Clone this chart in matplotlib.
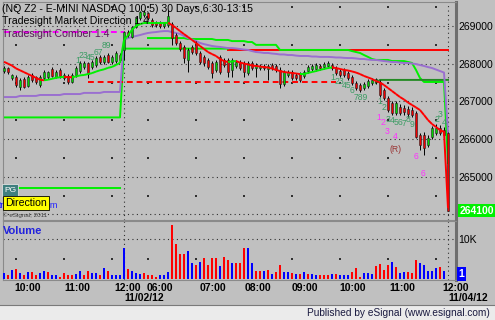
import numpy as np
import matplotlib.pyplot as plt
from matplotlib.collections import LineCollection
from matplotlib.transforms import blended_transform_factory
from matplotlib.patches import Rectangle
from matplotlib.lines import Line2D

plt.rcParams['font.family'] = ['Liberation Sans', 'DejaVu Sans']

# NQ Z2 5 min bars, 11/02/12 (last part) and 11/04/12
opens = [267800, 267875, 267625, 267650, 267375, 267600, 267400, 267700, 267650, 267425,
         267625, 267650, 267850, 267650, 267825, 267625, 267675, 267525, 267700, 267800,
         267900, 268025, 267900, 267975, 268175, 268050, 268225, 268050, 268075, 268225,
         268375, 268850, 268700, 268975, 269200, 269300, 269350, 269150, 269075, 269075,
         269000, 269025, 269050, 268750, 268550, 268450, 268100, 268450, 268550, 268275,
         268175, 268100, 268025, 267825, 268175, 268100, 268100, 267825, 267950, 268050,
         268025, 267750, 268025, 267875, 267875, 267950, 267850, 267975, 267950, 267825,
         267450, 267700, 267775, 267700, 267725, 267675, 267800, 267850, 267850, 267950,
         267900, 267950, 267975, 267875, 267800, 267825, 267750, 267650, 267500, 267425,
         267350, 267400, 267500, 267525, 267525, 267300, 267100, 266950, 266700, 266850,
         266825, 266800, 266775, 266700, 266100, 266100, 265850, 266050, 266150, 266300,
         266250, 266150]
highs = [267950, 267900, 267725, 267700, 267625, 267650, 267700, 267750, 267675, 267700,
         267825, 267800, 267900, 267825, 267875, 267750, 267725, 267750, 267950, 268075,
         268075, 268050, 268100, 268200, 268225, 268225, 268275, 268225, 268325, 268275,
         268875, 268900, 269000, 269250, 269400, 269425, 269375, 269200, 269125, 269125,
         269100, 269425, 269100, 268825, 268600, 268500, 268425, 268500, 268600, 268325,
         268225, 268150, 268075, 268100, 268225, 268150, 268150, 268150, 268100, 268100,
         268075, 268075, 268075, 268025, 268000, 268000, 268000, 268025, 268000, 267900,
         267825, 267825, 267825, 267750, 267775, 267825, 267975, 268000, 268025, 268000,
         268050, 268075, 268025, 267950, 267850, 267875, 267800, 267700, 267550, 267500,
         267525, 267600, 267625, 267625, 267575, 267350, 267150, 267000, 267000, 266925,
         266900, 266875, 266850, 266750, 266150, 266200, 266100, 266350, 266400, 266375,
         266325, 266200]
lows = [267750, 267725, 267575, 267375, 267300, 267350, 267375, 267525, 267450, 267375,
        267575, 267600, 267650, 267625, 267625, 267575, 267450, 267500, 267650, 267750,
        267850, 267625, 267850, 267900, 268000, 268000, 268025, 268000, 268025, 268050,
        268100, 268700, 268675, 268950, 269150, 269250, 269150, 268975, 268975, 268950,
        268950, 268975, 268500, 268500, 268325, 268025, 267775, 268250, 268225, 268000,
        267950, 267850, 267625, 267775, 267725, 267900, 267650, 267650, 267875, 267825,
        267650, 267700, 267825, 267650, 267825, 267825, 267575, 267825, 267775, 267350,
        267400, 267650, 267575, 267575, 267525, 267625, 267750, 267800, 267800, 267825,
        267850, 267875, 267825, 267700, 267650, 267650, 267575, 267425, 267300, 267250,
        267300, 267350, 267425, 267450, 267125, 267025, 266725, 266650, 266650, 266650,
        266650, 266575, 266575, 266025, 265700, 265575, 265800, 266000, 266100, 266100,
        266050, 264100]
closes = [267875, 267775, 267700, 267425, 267575, 267375, 267650, 267575, 267525, 267650,
          267775, 267775, 267675, 267775, 267675, 267700, 267525, 267700, 267875, 268025,
          268025, 267725, 268050, 268150, 268050, 268175, 268050, 268175, 268275, 268100,
          268850, 268750, 268975, 269200, 269375, 269375, 269200, 269025, 269025, 269000,
          269075, 269275, 268675, 268550, 268400, 268150, 268375, 268300, 268275, 268050,
          268025, 267900, 267750, 268050, 267775, 267975, 267775, 268100, 268050, 267875,
          267775, 268025, 267875, 267975, 267950, 267875, 267950, 267875, 267825, 267450,
          267775, 267775, 267625, 267625, 267575, 267775, 267900, 267950, 267975, 267875,
          268000, 268025, 267875, 267750, 267700, 267700, 267625, 267500, 267350, 267300,
          267450, 267550, 267575, 267600, 267175, 267100, 266775, 266700, 266950, 266700,
          266725, 266675, 266650, 266050, 265850, 265775, 266025, 266300, 266300, 266150,
          266100, 264100]

# volume in thousands of contracts, B = up (blue), R = down (red)
volume_k = [1.5, 0.9, 2.3, 2.5, 1.5, 0.9, 1.7, 1.7, 0.9, 1.5,
            2.0, 1.7, 1.0, 0.9, 0.6, 1.5, 1.0, 0.9, 1.2, 1.9,
            1.0, 2.0, 1.5, 1.5, 0.9, 2.7, 2.0, 0.9, 0.9, 1.0,
            7.7, 2.6, 1.9, 1.5, 1.3, 1.5, 0.9, 0.9, 0.6, 0.9,
            1.0, 1.7, 13.6, 8.9, 6.2, 6.4, 7.0, 4.0, 3.6, 4.4,
            5.3, 3.6, 5.3, 5.3, 3.4, 5.5, 4.8, 4.0, 4.0, 4.0,
            7.8, 7.8, 4.0, 2.0, 2.0, 2.0, 2.3, 1.2, 1.7, 3.6,
            1.7, 1.7, 1.5, 1.3, 1.3, 1.7, 1.3, 1.2, 1.0, 0.9,
            1.0, 1.0, 1.2, 1.2, 1.0, 1.0, 0.9, 1.7, 2.7, 0.6,
            1.5, 1.5, 1.3, 3.4, 3.8, 2.3, 3.6, 4.2, 2.9, 1.5,
            1.7, 1.7, 1.5, 4.9, 4.0, 3.6, 2.0, 2.0, 2.7, 2.9,
            1.9, 0.001]
volume_dir = ("BRBRBRBRRBBRBBRRRRBBRRBBRBRBBB"
              "BRBBBRRRRBBB" "RRRRBBRBRR" "RRBRRBRRRB"
              "BRRBRBRRBBRBRBRBBRRRBRBBBRRRBBBRRRRBRBBRRRBBBBBRB" "B")

# moving averages
ma_fast = [268050, 268000, 267950, 267875, 267825, 267775, 267725, 267675, 267625, 267575,
           267560, 267575, 267600, 267625, 267640, 267650, 267645, 267640, 267660, 267690,
           267700, 267725, 267750, 267790, 267825, 267850, 267890, 267915, 267965, 268025,
           268625, 268750, 268900, 269000, 269050, 269080, 269080, 269080, 269080, 269080,
           269080, 269085, 269025, 268950, 268865, 268785, 268710, 268630, 268550, 268470,
           268390, 268310, 268255, 268205, 268125, 268070, 268045, 268060, 268070, 268030,
           268005, 267980, 267950, 267940, 267925, 267910, 267900, 267870, 267835, 267805,
           267780, 267765, 267755, 267740, 267725, 267725, 267755, 267780, 267805, 267835,
           267860, 267885, 267900, 267885, 267860, 267835, 267820, 267795, 267765, 267725,
           267675, 267635, 267595, 267540, 267500, 267435, 267355, 267275, 267195, 267115,
           267050, 266970, 266905, 266840, 266770, 266640, 266505, 266400, 266320, 266240,
           266190, 264170]
ma_slow = ([267115] * 4 + [267145] * 5 + [267170] * 6 + [267195] * 5 + [267225] * 5 + [267250] * 5 +
           [268630, 268680, 268710, 268735, 268760, 268790, 268815, 268830, 268840, 268855,
            268865, 268865, 268840, 268815, 268790, 268735, 268680, 268640, 268600, 268550,
            268520, 268495, 268470, 268455, 268445, 268430, 268415, 268415, 268405, 268390,
            268375, 268365, 268335, 268310, 268300, 268285, 268285, 268270, 268260, 268245,
            268245, 268230, 268230, 268215, 268205, 268205, 268205, 268190, 268190, 268180,
            268180, 268180, 268175, 268165, 268165, 268155, 268150, 268150, 268140, 268125,
            268125, 268110, 268100, 268100, 268085, 268070, 268060, 268045, 268045, 268030,
            268020, 268020, 268005, 267990, 267965, 267940, 267910, 267885, 267845, 267805,
            267765, 266160])

nan = np.nan
# market direction levels
level_a = ([nan] * 36 + [268680] * 10 + [268655] * 7 + [268630] * 4 + [268600] * 4 +
           [268575] * 2 + [268500] * 6 + [268365] * 18 +
           [268335, 268310, 268285, 268230, 268180, 268125] + [268100] * 4 + [268070] * 4 +
           [268045, 268020, 267835, 267620] + [267515] * 6 + [265365])
level_b = [266575] * 30 + [268400] * 27 + [nan] * 55
level_red = [nan] * 56 + [268375] * 56
level_c = [264700] * 30 + [nan] * 82
level_dark = [nan] * 93 + [267490] + [267570] * 18
comber_dash = [268840] * 31 + [nan] * 81
red_dash = [nan] * 21 + [267515] * 63 + [nan] * 28

# count labels: text, bar, price, kind
counts = [('1', 18.4, 268075, 'g'), ('23', 19.9, 268215, 'g'), ('45', 21.75, 268165, 'g'),
          ('67', 23.6, 268300, 'g'), ('89', 25.5, 268470, 'g'),
          ('1', 82.25, 267625, 'g'), ('23', 83.75, 267540, 'g'), ('45', 85.6, 267420, 'g'),
          ('6', 87, 267290, 'g'), ('789', 89.25, 267090, 'g'),
          ('1', 94, 266985, 'g'), ('2', 95, 266840, 'g'),
          ('1', 93.75, 266560, 'p'), ('2', 94.75, 266450, 'p'),
          ('3', 96, 266530, 'g'), ('4', 97, 266480, 'g'), ('5', 98, 266450, 'g'),
          ('6', 99, 266450, 'g'), ('7', 100, 266425, 'g'), ('8', 101, 266530, 'g'),
          ('9', 102, 266400, 'g'),
          ('3', 95.75, 266190, 'p'), ('4', 97.75, 266080, 'p'), ('(R)', 98, 265735, 'r'),
          ('6', 103, 265525, 'p'), ('6', 104.75, 265075, 'p'),
          ('2', 108.25, 266530, 'g'), ('3', 109, 266665, 'g'), ('4', 110, 266450, 'g')]
count_colors = {'g': '#3c9c64', 'p': '#ff30ff', 'r': '#993333'}

price_ticks = [265000, 266000, 267000, 268000, 269000]
last_price = 264100
time_pos = [6, 18.25, 31, 39, 52.25, 63.5, 75.25, 87.25, 99.5, 112.9]
time_lbl = ['10:00', '11:00', '12:00', '06:00', '07:00', '08:00', '09:00', '10:00', '11:00', '12:00']
vgrid = [3, 15, 27, 36, 48, 60, 72, 84, 96, 108]
day_break = 30

W, H = 495, 320
def fx(px):
    return px / W
def fy(py):
    return 1 - py / H

BG = '#c0c0c0'
fig = plt.figure(figsize=(W / 100, H / 100), dpi=100)
fig.patch.set_facecolor(BG)

ax = fig.add_axes([fx(3), fy(220), fx(456) - fx(3), fy(2) - fy(220)])
axv = fig.add_axes([fx(3), fy(280), fx(456) - fx(3), fy(221) - fy(280)], sharex=ax)
nbar = len(opens)
bars = np.arange(nbar)

for a in (ax, axv):
    a.set_facecolor(BG)
    for s in ('left', 'top', 'bottom'):
        a.spines[s].set_color('#8a8a8a')
        a.spines[s].set_linewidth(0.8)
    a.spines['right'].set_color('#6e6e6e')
    a.spines['right'].set_linewidth(2.2)
    a.yaxis.tick_right()
    a.tick_params(axis='y', length=0, pad=1.5, labelsize=7.5)
    a.axvline(day_break, color='#303030', lw=0.8, ls=(0, (1, 3)), zorder=1)
    a.axvline(nbar - 1, color='#303030', lw=0.8, ls=(0, (1, 3)), zorder=1)

ax.set_xlim(-0.25, 113)
ax.set_ylim(263853, 269637)
axv.set_ylim(-250, 14610)

# grid
for lv in range(264000, 270000, 1000):
    ax.axhline(lv, color='#303030', lw=0.8, ls=(0, (1, 3)), zorder=1)
gx, gy = np.meshgrid(vgrid, np.arange(264500, 270000, 1000))
ax.scatter(gx.ravel(), gy.ravel(), s=0.8, marker='s', color='#303030', lw=0, zorder=1)
axv.axhline(10000, color='#303030', lw=0.8, ls=(0, (1, 3)), zorder=1)
axv.scatter(vgrid, [5000] * len(vgrid), s=0.8, marker='s', color='#303030', lw=0, zorder=1)

# level lines
ax.plot(bars, level_c, color='#00f000', lw=1.4, zorder=2)
ax.plot(bars, level_red, color='#ff0000', lw=1.4, zorder=2)
ax.plot(bars, level_b, color='#00f000', lw=1.4, zorder=2)
ax.plot(bars, level_a, color='#00f000', lw=1.4, zorder=2)
ax.plot(bars, level_dark, color='#238a23', lw=1.4, zorder=2)
ax.plot(bars, comber_dash, color='#ff00ff', lw=1.4, ls=(0, (3, 2)), zorder=2)
ax.plot(bars, red_dash, color='#ff0000', lw=1.4, ls=(0, (3, 2)), zorder=2)
ax.plot(bars, ma_slow, color='#9a6fd0', lw=1.4, zorder=2)

# candles
o = np.array(opens)
c = np.array(closes)
up = c >= o
ax.vlines(bars, lows, highs, color='black', lw=0.7, zorder=3)
body_lo = np.minimum(o, c)
body_h = np.maximum(np.abs(c - o), 14)
ax.bar(bars, body_h, bottom=body_lo, width=0.72, color=np.where(up, '#00d400', '#f00000'),
       edgecolor='#202020', linewidth=0.4, zorder=4)

# fast average: green while rising, red while falling
y = np.array(ma_fast, dtype=float)
pts = np.column_stack([bars, y])
segs = np.stack([pts[:-1], pts[1:]], axis=1)
cols = ['#00f000' if b >= a else '#ff0000' for a, b in zip(y[:-1], y[1:])]
ax.add_collection(LineCollection(segs, colors=cols, linewidths=1.4, zorder=5))

for txt, bx, py, kind in counts:
    ax.text(bx, py, txt, color=count_colors[kind], fontsize=6.2, ha='center', va='center', zorder=6)

ax.set_yticks(price_ticks)
ax.set_yticklabels([str(t) for t in price_ticks])
ax.tick_params(axis='x', length=0, labelbottom=False)
tr = blended_transform_factory(ax.transAxes, ax.transData)
ax.text(1.008, last_price, str(last_price), transform=tr, ha='left', va='center', fontsize=7.5,
        color='white', fontweight='bold', zorder=7, clip_on=False,
        bbox=dict(boxstyle='square,pad=0.15', fc='#00f000', ec='none'))

# volume
vcol = ['#0000ff' if d == 'B' else '#ff0000' for d in volume_dir]
axv.bar(bars, np.array(volume_k) * 1000, width=0.38, color=vcol, zorder=3)
axv.set_yticks([10000])
axv.set_yticklabels(['10K'])
trv = blended_transform_factory(axv.transAxes, axv.transData)
axv.text(1.006, 0, '1', transform=trv, ha='left', va='bottom', fontsize=7.5, color='white',
         fontweight='bold', clip_on=False,
         bbox=dict(boxstyle='square,pad=0.15', fc='#0000ff', ec='none'))
axv.set_xticks(time_pos)
axv.set_xticklabels(time_lbl, fontweight='bold', fontsize=7.5)
axv.tick_params(axis='x', length=0, pad=2.5)

# header texts
fig.text(fx(2), fy(9), '(NQ Z2 - E-MINI NASDAQ 100,5) 30 Days,6:30-13:15', fontsize=7.6,
         va='center', ha='left', color='black')
fig.text(fx(2), fy(21), 'Tradesight Market Direction 1.4', fontsize=7.6, va='center', ha='left',
         color='black')
fig.text(fx(2), fy(34), 'Tradesight Comber 1.4', fontsize=7.6, va='center', ha='left',
         color='#5a1a5a')
fig.text(fx(4), fy(190), 'PG', fontsize=6, va='center', ha='left', color='white',
         bbox=dict(boxstyle='square,pad=0.25', fc='#3f7f7f', ec='#e0e0e0', lw=0.6))
fig.text(fx(58), fy(205), 'tradesight.com', fontsize=6.5, va='center', ha='right',
         color='#2020ff', zorder=1)
fig.text(fx(5), fy(203), 'Direction', fontsize=7.6, va='center', ha='left', color='black',
         zorder=5, bbox=dict(boxstyle='square,pad=0.2', fc='#ffff00', ec='black', lw=0.6))
fig.text(fx(3), fy(215), '\u00a9 eSignal, 2011', fontsize=4.5, va='center', ha='left',
         color='#404040')
fig.text(fx(3), fy(231), 'Volume', fontsize=8, va='center', ha='left', color='#2222dd',
         fontweight='bold')
fig.text(fx(144), fy(298), '11/02/12', fontsize=7.5, va='center', ha='center',
         fontweight='bold')
fig.text(fx(468), fy(298), '11/04/12', fontsize=7.5, va='center', ha='center',
         fontweight='bold')

# status bar
fig.add_artist(Rectangle((0, 0), 1, fy(305), transform=fig.transFigure, fc='#ebebeb',
                         ec='none', zorder=0))
fig.add_artist(Line2D([0, 1], [fy(305), fy(305)], transform=fig.transFigure,
                      color='#7a7a7a', lw=0.8))
fig.text(fx(490), fy(313), 'Published by eSignal (www.esignal.com)', fontsize=7.3,
         va='center', ha='right', color='#1a1a40')

fig.savefig('out.png', dpi=100, facecolor=BG)
